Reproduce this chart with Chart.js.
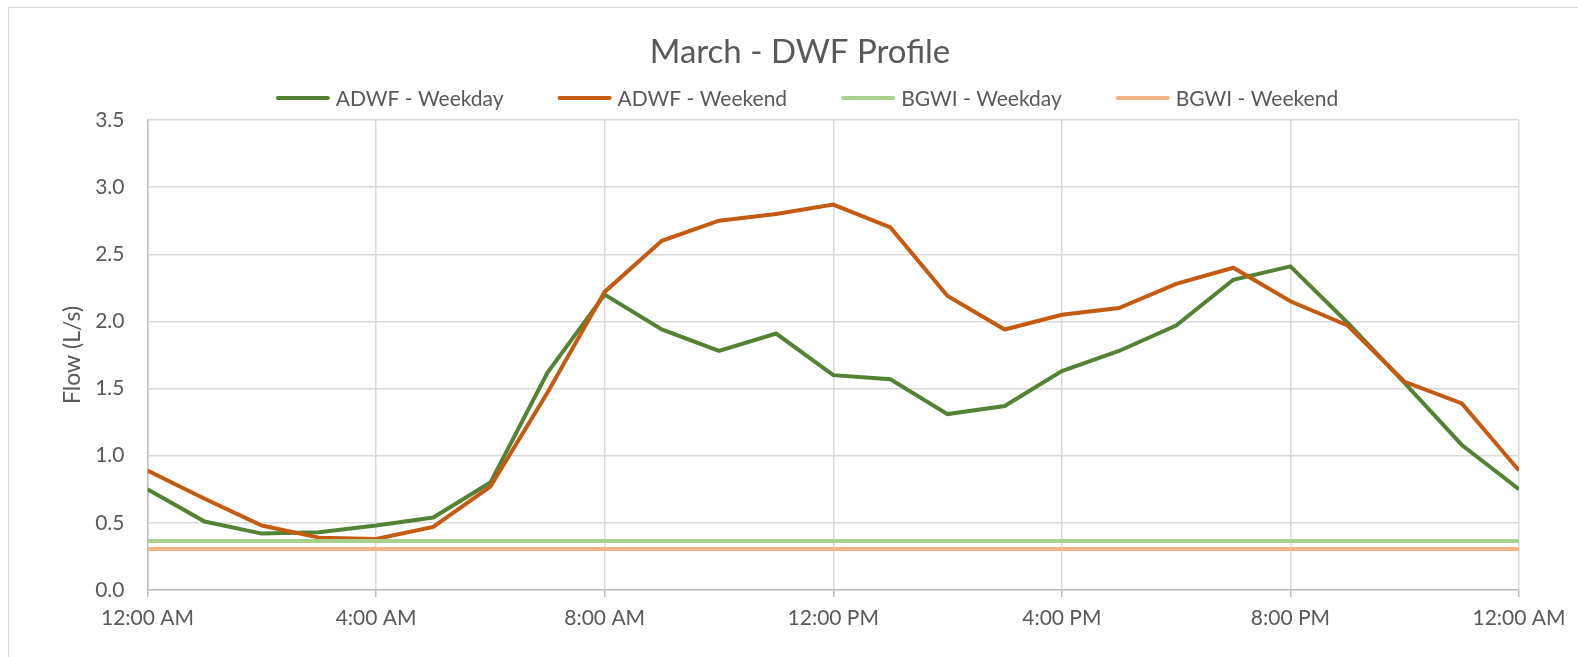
<!DOCTYPE html>
<html>
<head>
<meta charset="utf-8">
<script src="https://cdn.jsdelivr.net/npm/chart.js@4.4.1/dist/chart.umd.min.js"></script>
<style>
  html, body { margin: 0; padding: 0; background: #fff; }
  #wrap { position: relative; width: 1578px; height: 657px; overflow: hidden; }
  #frame { position: absolute; left: 8px; top: 7px; width: 1620px; height: 720px; border: 1.5px solid #d9d9d9; box-sizing: border-box; }
  canvas { position: absolute; left: 0; top: 0; }
</style>
</head>
<body>
<div id="wrap">
  <div id="frame"></div>
  <canvas id="flowChart" width="1578" height="657"></canvas>
</div>
<script>
// hour of day, 0 = midnight, 24 = following midnight
const hours = [0, 1, 2, 3, 4, 5, 6, 7, 8, 9, 10, 11, 12, 13, 14, 15, 16, 17, 18, 19, 20, 21, 22, 23, 24]
const tickLabels = ['12:00 AM', '4:00 AM', '8:00 AM', '12:00 PM', '4:00 PM', '8:00 PM', '12:00 AM']

// average dry weather flow, L/s
const adwfWeekday = [0.75, 0.51, 0.42, 0.43, 0.48, 0.54, 0.80, 1.62, 2.20, 1.94, 1.78, 1.91, 1.60,
                     1.57, 1.31, 1.37, 1.63, 1.78, 1.97, 2.31, 2.41, 1.99, 1.54, 1.08, 0.75]
const adwfWeekend = [0.89, 0.68, 0.48, 0.39, 0.38, 0.47, 0.77, 1.47, 2.22, 2.60, 2.75, 2.80, 2.87,
                     2.70, 2.19, 1.94, 2.05, 2.10, 2.28, 2.40, 2.15, 1.97, 1.55, 1.39, 0.89]

// base groundwater infiltration is flat across the day
const bgwiHours = [0, 24]
const bgwiWeekday = [0.365, 0.365]
const bgwiWeekend = [0.305, 0.305]

const chartTitle = 'March - DWF Profile'
const axisTitle = 'Flow (L/s)'

const fontFamily = 'Lato, "Liberation Sans", sans-serif'
const textColor = '#595959'
const gridColor = '#d9d9d9'
const axisColor = '#bfbfbf'

const toPoints = (xs, ys) => ys.map((y, i) => ({ x: xs[i], y: y }))

const makeSeries = (label, xs, ys, color, width, order) => {
    return {
        label: label,
        data: toPoints(xs, ys),
        borderColor: color,
        backgroundColor: color,
        borderWidth: width,
        pointRadius: 0,
        tension: 0,
        order: order
    }
}

// title and line-style legend drawn above the plot area
const headerPlugin = {
    id: 'header',
    afterDraw(chart) {
        const ctx = chart.ctx
        ctx.save()
        ctx.fillStyle = textColor
        ctx.textBaseline = 'middle'
        ctx.textAlign = 'center'
        ctx.font = '33px ' + fontFamily
        ctx.fillText(chartTitle, 800, 52)

        const lineLen = 54
        const gap = 6
        const itemGap = 54
        const legendY = 98
        ctx.font = '21px ' + fontFamily
        const items = chart.data.datasets.map(ds => ({
            ds: ds,
            w: lineLen + gap + ctx.measureText(ds.label).width
        }))
        const total = items.reduce((s, it) => s + it.w, 0) + itemGap * (items.length - 1)
        let x = 807 - total / 2
        ctx.textAlign = 'left'
        items.forEach(it => {
            ctx.strokeStyle = it.ds.borderColor
            ctx.lineWidth = it.ds.borderWidth
            ctx.lineCap = 'round'
            ctx.beginPath()
            ctx.moveTo(x + 2, legendY)
            ctx.lineTo(x + lineLen - 2, legendY)
            ctx.stroke()
            ctx.fillText(it.ds.label, x + lineLen + gap, legendY + 1)
            x += it.w + itemGap
        })
        ctx.restore()
    }
}

new Chart(document.getElementById('flowChart').getContext('2d'), {
    type: 'line',
    data: {
        datasets: [
            makeSeries('ADWF - Weekday', hours, adwfWeekday, '#548235', 4, 3),
            makeSeries('ADWF - Weekend', hours, adwfWeekend, '#c55a11', 4, 2),
            makeSeries('BGWI - Weekday', bgwiHours, bgwiWeekday, '#a9d18e', 4, 1),
            makeSeries('BGWI - Weekend', bgwiHours, bgwiWeekend, '#f4b183', 4, 0)
        ]
    },
    options: {
        responsive: false,
        animation: false,
        layout: { padding: { top: 120, right: 59, left: 0, bottom: 0 } },
        plugins: {
            legend: { display: false },
            title: { display: false },
            tooltip: { enabled: false }
        },
        scales: {
            x: {
                type: 'linear',
                min: 0,
                max: 24,
                ticks: {
                    stepSize: 4,
                    autoSkip: false,
                    maxRotation: 0,
                    padding: 9,
                    color: textColor,
                    font: { family: fontFamily, size: 21 },
                    callback: v => tickLabels[v / 4]
                },
                grid: { color: gridColor, lineWidth: 1.5, tickLength: 7, tickColor: axisColor },
                border: { color: axisColor, width: 1.5 },
                afterFit: scale => { scale.height = 67 }
            },
            y: {
                min: 0,
                max: 3.5,
                ticks: {
                    stepSize: 0.5,
                    padding: 23,
                    color: textColor,
                    font: { family: fontFamily, size: 21 },
                    callback: v => v.toFixed(1)
                },
                grid: { color: gridColor, lineWidth: 1.5, drawTicks: false },
                border: { color: axisColor, width: 1.5 },
                title: {
                    display: true,
                    text: axisTitle,
                    color: textColor,
                    font: { family: fontFamily, size: 23 },
                    padding: { top: 59, bottom: 0 }
                },
                afterFit: scale => { scale.width = 147.5 }
            }
        }
    },
    plugins: [headerPlugin]
})
</script>
</body>
</html>
